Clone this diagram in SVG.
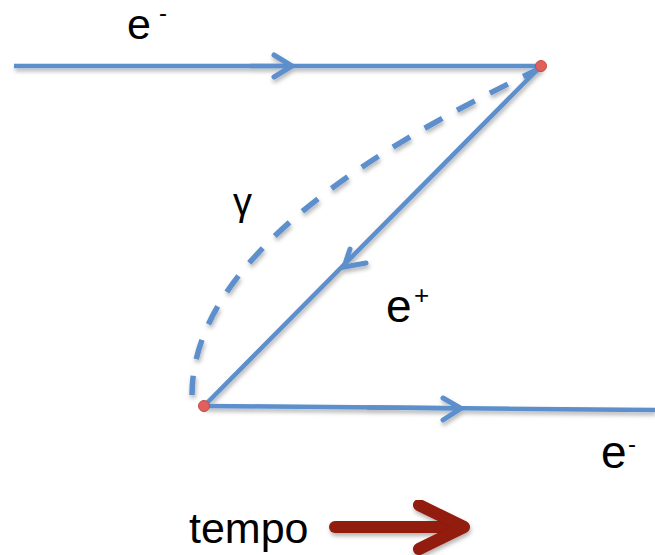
<svg xmlns="http://www.w3.org/2000/svg" width="655" height="555" viewBox="0 0 655 555">
  <defs>
    <filter id="sh" x="-10%" y="-10%" width="120%" height="130%">
      <feDropShadow dx="1" dy="3" stdDeviation="2" flood-color="#000" flood-opacity="0.3"/>
    </filter>
  </defs>
  <style>
    .ln{fill:none;stroke:#5b8fcb;stroke-width:4.5;stroke-linecap:butt}
    .ah{fill:none;stroke:#5b8fcb;stroke-width:5;stroke-linecap:round;stroke-linejoin:miter}
    .dash{fill:none;stroke:#5b8fcb;stroke-width:5.5;stroke-dasharray:20 17}
    .vx{fill:#e0605c;stroke:#c44a46;stroke-width:1}
    .lbl{font-family:"Liberation Sans",Arial,sans-serif;fill:#000}
    .red{fill:none;stroke:#921a0a;stroke-width:12;stroke-linecap:round;stroke-linejoin:round}
  </style>
  <rect width="655" height="555" fill="#fff"/>
  <g id="connectors" filter="url(#sh)">
    <g id="electron-in">
      <line class="ln" x1="14" y1="66" x2="541" y2="66"/>
      <line class="ln" x1="250" y1="66" x2="290" y2="66" stroke-width="6"/>
      <polyline class="ah" points="274,55 292,66 274,77"/>
    </g>
    <g id="positron">
      <line class="ln" x1="541" y1="66" x2="204" y2="406"/>
      <polyline class="ah" points="350,249 344,267 366,263"/>
    </g>
    <g id="electron-out">
      <line class="ln" x1="204" y1="406" x2="655" y2="410"/>
      <line class="ln" x1="367" y1="407.4" x2="455" y2="408.2" stroke-width="6"/>
      <polyline class="ah" points="443,398 461,408.3 443,420"/>
    </g>
    <g id="photon">
      <path class="dash" d="M541,68 C400,135 192,250 192,395"/>
    </g>
  </g>
  <g id="vertex-top"><circle class="vx" cx="541" cy="66" r="5.5"/></g>
  <g id="vertex-bottom"><circle class="vx" cx="204" cy="406" r="5.5"/></g>
  <g id="labels">
    <text class="lbl" x="127" y="39" font-size="43">e</text>
    <text class="lbl" x="159" y="21" font-size="24">-</text>
    <text class="lbl" x="601" y="468" font-size="46">e</text>
    <text class="lbl" x="628" y="452" font-size="24">-</text>
    <text class="lbl" x="386" y="322" font-size="46">e</text>
    <text class="lbl" x="414" y="304" font-size="26">+</text>
    <text class="lbl" x="233" y="215" font-size="38" font-family="'DejaVu Sans',sans-serif">γ</text>
    <text class="lbl" x="189" y="543" font-size="43">tempo</text>
  </g>
  <g id="time-arrow" filter="url(#sh)">
    <line class="red" x1="335" y1="527" x2="455" y2="527" stroke-linecap="butt"/>
    <polyline class="red" points="419,505 464,527 419,549"/>
  </g>
</svg>
